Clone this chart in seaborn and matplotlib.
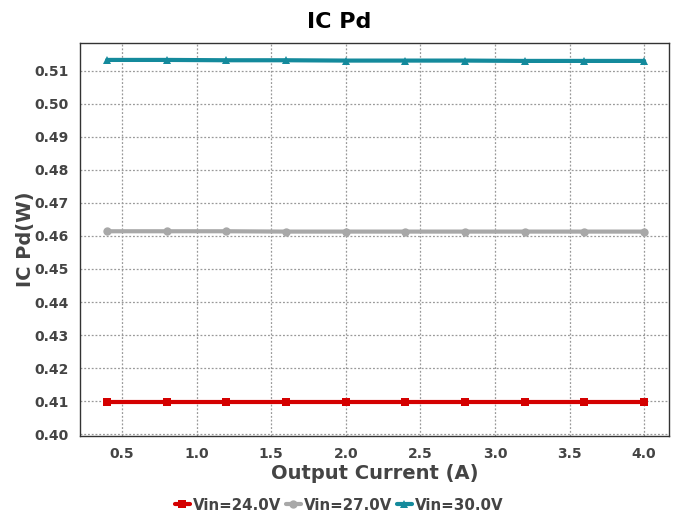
import matplotlib
matplotlib.use("Agg")
import matplotlib.pyplot as plt
import seaborn as sns
import pandas as pd

current = [0.4, 0.8, 1.2, 1.6, 2.0, 2.4, 2.8, 3.2, 3.6, 4.0]
pd_24 = [0.4098, 0.4098, 0.4098, 0.4098, 0.4098, 0.4098, 0.4098, 0.4098, 0.4098, 0.4098]
pd_27 = [0.4614, 0.4614, 0.4614, 0.4613, 0.4613, 0.4613, 0.4613, 0.4613, 0.4613, 0.4613]
pd_30 = [0.5132, 0.5132, 0.5131, 0.5131, 0.5130, 0.5130, 0.5130, 0.5129, 0.5129, 0.5129]
labels = ["Vin=24.0V", "Vin=27.0V", "Vin=30.0V"]

rows = []
for lab, vals in zip(labels, [pd_24, pd_27, pd_30]):
    for x, y in zip(current, vals):
        rows.append({"Output Current (A)": x, "IC Pd(W)": y, "series": lab})
df = pd.DataFrame(rows)

sns.set_style("white")
plt.rcParams['font.family'] = ['DejaVu Sans']

fig = plt.figure(figsize=(6.78, 5.15), dpi=100)
ax = fig.add_axes([0.118, 0.1534, 0.869, 0.763])

palette = {"Vin=24.0V": "#d40000", "Vin=27.0V": "#a8a8a8", "Vin=30.0V": "#148a9c"}
markers = {"Vin=24.0V": "s", "Vin=27.0V": "o", "Vin=30.0V": "^"}
sns.lineplot(data=df, x="Output Current (A)", y="IC Pd(W)", hue="series", style="series",
             palette=palette, markers=markers, dashes=False, linewidth=3, markersize=6,
             markeredgewidth=0, ax=ax, zorder=3)

ax.set_xlim(0.218, 4.168)
ax.set_ylim(0.3995, 0.5183)
ax.set_xticks([0.5, 1.0, 1.5, 2.0, 2.5, 3.0, 3.5, 4.0])
ax.set_yticks([0.40 + 0.01 * i for i in range(12)])
ax.set_xticklabels([f"{v:.1f}" for v in [0.5, 1.0, 1.5, 2.0, 2.5, 3.0, 3.5, 4.0]])
ax.set_yticklabels([f"{0.40 + 0.01 * i:.2f}" for i in range(12)])
ax.grid(True, linestyle=(0, (1.5, 1.5)), color="#999999", linewidth=0.9)
for lab in ax.get_xticklabels() + ax.get_yticklabels():
    lab.set_fontweight("bold")
    lab.set_color("#444444")
    lab.set_fontsize(10)
ax.tick_params(axis="both", length=0, pad=8)
for s in ax.spines.values():
    s.set_color("#333333")
    s.set_linewidth(1)

ax.set_xlabel("Output Current (A)", fontsize=14, fontweight="bold", color="#444444", labelpad=2)
ax.set_ylabel("IC Pd(W)", fontsize=14, fontweight="bold", color="#444444", labelpad=0)
fig.text(0.5, 1 - 22 / 515, "IC Pd", fontsize=16, fontweight="bold", color="black",
         ha="center", va="center")

handles, labs = ax.get_legend_handles_labels()
ax.get_legend().remove()
fig.legend(handles, labs, loc="center", bbox_to_anchor=(0.5, 1 - 505 / 515), ncol=3, frameon=False,
           prop={"weight": "bold", "size": 10.8}, handlelength=1.0, handletextpad=0.2, columnspacing=0.3,
           labelcolor="#444444")

fig.savefig("out.png", dpi=100)
